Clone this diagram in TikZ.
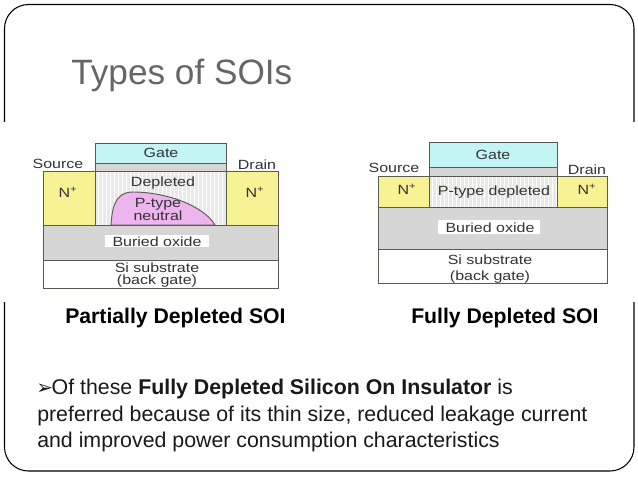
\documentclass[tikz,border=0pt]{standalone}
\usepackage{fontspec}
\setmainfont{Liberation Sans}
\newfontfamily\symfont{DejaVu Sans}
\newfontfamily\figfont[FakeStretch=1.2]{Liberation Sans}
\definecolor{gatecyan}{HTML}{C4F5F5}
\definecolor{nyellow}{HTML}{F7F394}
\definecolor{oxidegray}{HTML}{D6D6D6}
\definecolor{stripgray}{HTML}{E9E9E9}
\definecolor{blobpink}{HTML}{EEB4EE}
\definecolor{edgegray}{HTML}{5A5A50}
\definecolor{labelgray}{HTML}{333333}
\definecolor{titlegray}{HTML}{666666}
\tikzset{
	layer/.style={draw=edgegray, line width=0.7pt},
	lbl/.style={font=\figfont\fontsize{10}{12}\selectfont, text=labelgray, inner sep=0pt, anchor=base},
	caption/.style={font=\fontsize{15.9}{19}\selectfont\bfseries, text=black, inner sep=0pt, anchor=base west},
	bodyline/.style={font=\fontsize{16}{19}\selectfont, text=black!90, inner sep=0pt, anchor=base west},
}
\begin{document}
\begin{tikzpicture}[x=0.75pt, y=-0.75pt]
	\useasboundingbox (0,0) rectangle (638,479);
	
	% Slide frame, cut by the pasted figure
	\draw[black, line width=0.8pt, rounded corners=18pt] (4.5,4.5) rectangle (634,471);
	\fill[white] (0,122) rectangle (638,302);
	
	\node[anchor=base west, inner sep=0pt, text=titlegray, font=\fontsize{26.4}{30}\selectfont] (title) at (71,84) {Types of SOIs};
	
	% Partially depleted device
	\fill[stripgray] (95,171) rectangle (226,225);
	\foreach \x in {98,102,...,224}
		\draw[white, line width=0.7pt] (\x,171) -- (\x,225);
	\draw[layer, fill=nyellow] (43,171) rectangle (95,225);
	\draw[layer, fill=nyellow] (226,171) rectangle (278,225);
	\draw[layer, fill=oxidegray] (95,163) rectangle (226,171);
	\draw[layer, fill=gatecyan] (95,143) rectangle (226,163);
	\draw[layer, fill=blobpink] (111,225) .. controls (112,212) and (113,192) .. (133,192) .. controls (165,192) and (203,205) .. (215,225) -- cycle;
	\draw[layer, fill=oxidegray] (43,225) rectangle (278,260.5);
	\draw[layer, fill=white] (43,260.5) rectangle (278,288);
	\fill[white] (105,235) rectangle (209,247);
	
	\node[lbl] (gateA) at (161,157) {Gate};
	\node[lbl] (sourceA) at (58,168) {Source};
	\node[lbl] (drainA) at (257,169) {Drain};
	\node[lbl] (nleftA) at (68,197) {N\textsuperscript{+}};
	\node[lbl] (nrightA) at (255,197) {N\textsuperscript{+}};
	\node[lbl] (depleted) at (163,186) {Depleted};
	\node[lbl] (ptype) at (158,207) {P-type};
	\node[lbl] (neutral) at (158,220) {neutral};
	\node[lbl] (oxideA) at (157,246) {Buried oxide};
	\node[lbl] (siA) at (157,272) {Si substrate};
	\node[lbl] (backA) at (157,284.5) {(back gate)};
	
	% Fully depleted device
	\fill[stripgray] (429,176) rectangle (557,207);
	\foreach \x in {432,436,...,556}
		\draw[white, line width=0.7pt] (\x,176) -- (\x,207);
	\draw[layer, fill=nyellow] (378,176) rectangle (429,207);
	\draw[layer, fill=nyellow] (557,176) rectangle (607,207);
	\draw[layer, fill=oxidegray] (429,167) rectangle (557,176);
	\draw[layer, fill=gatecyan] (429,142) rectangle (557,167);
	\draw[layer, fill=oxidegray] (378,207) rectangle (607,249.5);
	\draw[layer, fill=white] (378,249.5) rectangle (607,283.5);
	\fill[white] (438,220) rectangle (540,234);
	
	\node[lbl] (gateB) at (493,159) {Gate};
	\node[lbl] (sourceB) at (394,172) {Source};
	\node[lbl] (drainB) at (587,174) {Drain};
	\node[lbl] (nleftB) at (407,194) {N\textsuperscript{+}};
	\node[lbl] (nrightB) at (587,194) {N\textsuperscript{+}};
	\node[lbl] (pdepleted) at (494,195) {P-type depleted};
	\node[lbl] (oxideB) at (490,232) {Buried oxide};
	\node[lbl] (siB) at (490,264) {Si substrate};
	\node[lbl] (backB) at (490,280) {(back gate)};
	
	% Captions
	\node[caption] (capA) at (65,323) {Partially Depleted SOI};
	\node[caption] (capB) at (411,323) {Fully Depleted SOI};
	
	% Bullet text
	\node[bodyline] (lineA) at (36,394) {{\symfont\fontsize{15}{17}\selectfont ➢}\hspace{-1pt}Of these \textbf{Fully Depleted Silicon On Insulator} is};
	\node[bodyline] (lineB) at (37,421) {preferred because of its thin size, reduced leakage current};
	\node[bodyline] (lineC) at (37,447) {and improved power consumption characteristics};
	
\end{tikzpicture}
\end{document}
